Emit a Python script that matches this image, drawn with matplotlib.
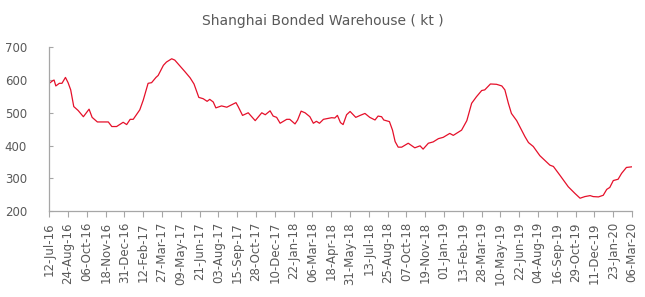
import numpy as np
import pandas as pd
import matplotlib
matplotlib.use("Agg")
import matplotlib.pyplot as plt

# weekly-ish readings of the stock level (kt)
dates = [
    "2016-07-12", "2016-07-20", "2016-07-23", "2016-07-27", "2016-08-04", "2016-08-10",
    "2016-08-18", "2016-08-24", "2016-08-30", "2016-09-06", "2016-09-16", "2016-09-28",
    "2016-10-11", "2016-10-18", "2016-10-30", "2016-11-13", "2016-11-24", "2016-12-02",
    "2016-12-13", "2016-12-28", "2017-01-05", "2017-01-13", "2017-01-20", "2017-02-04",
    "2017-02-12", "2017-02-23", "2017-03-03", "2017-03-13", "2017-03-18", "2017-03-30",
    "2017-04-06", "2017-04-18", "2017-04-25", "2017-05-07", "2017-05-18", "2017-05-30",
    "2017-06-08", "2017-06-19", "2017-06-29", "2017-07-08", "2017-07-14", "2017-07-22",
    "2017-07-28", "2017-08-10", "2017-08-22", "2017-09-12", "2017-09-17", "2017-09-27",
    "2017-10-10", "2017-10-26", "2017-11-10", "2017-11-18", "2017-11-29", "2017-12-06",
    "2017-12-14", "2017-12-22", "2018-01-06", "2018-01-13", "2018-01-25", "2018-01-31",
    "2018-02-08", "2018-02-17", "2018-02-28", "2018-03-08", "2018-03-15", "2018-03-22",
    "2018-03-31", "2018-04-19", "2018-04-26", "2018-05-02", "2018-05-09", "2018-05-15",
    "2018-05-23", "2018-05-31", "2018-06-13", "2018-06-23", "2018-07-04", "2018-07-15",
    "2018-07-27", "2018-08-03", "2018-08-11", "2018-08-16", "2018-08-29", "2018-09-05",
    "2018-09-11", "2018-09-18", "2018-09-26", "2018-10-11", "2018-10-26", "2018-11-07",
    "2018-11-14", "2018-11-26", "2018-12-07", "2018-12-19", "2018-12-30", "2019-01-14",
    "2019-01-22", "2019-02-10", "2019-02-22", "2019-03-05", "2019-03-16", "2019-03-28",
    "2019-04-04", "2019-04-17", "2019-05-01", "2019-05-13", "2019-05-20", "2019-05-28",
    "2019-06-04", "2019-06-16", "2019-06-23", "2019-07-05", "2019-07-13", "2019-07-24",
    "2019-08-08", "2019-08-20", "2019-08-31", "2019-09-08", "2019-09-23", "2019-10-12",
    "2019-10-27", "2019-11-08", "2019-11-19", "2019-12-01", "2019-12-08", "2019-12-20",
    "2019-12-31", "2020-01-08", "2020-01-15", "2020-01-23", "2020-02-03", "2020-02-11",
    "2020-02-22", "2020-03-06",
]
stocks = [
    590, 598, 600, 582, 590, 590,
    608, 592, 570, 519, 507, 488,
    511, 486, 472, 472, 472, 458,
    458, 471, 464, 480, 480, 509,
    539, 590, 592, 608, 614, 645,
    655, 665, 661, 643, 626, 607,
    588, 547, 543, 535, 541, 533,
    515, 521, 517, 531, 519, 492,
    500, 476, 500, 494, 506, 490,
    486, 468, 480, 480, 466, 478,
    505, 500, 488, 468, 474, 468,
    480, 485, 484, 492, 470, 464,
    494, 504, 486, 492, 498, 486,
    478, 490, 488, 478, 473, 447,
    412, 395, 395, 407, 393, 399,
    389, 407, 411, 421, 425, 437,
    431, 447, 476, 529, 549, 568,
    570, 588, 587, 582, 570, 529,
    498, 476, 458, 427, 409, 397,
    369, 354, 340, 336, 309, 274,
    254, 239, 244, 247, 244, 243,
    248, 266, 272, 293, 297, 315,
    333, 335,
]
title = "Shanghai Bonded Warehouse ( kt )"
x_start, x_end = "2016-07-12", "2020-03-06"
y_ticks = [200, 300, 400, 500, 600, 700]

grey_text = "#595959"
grey_axis = "#A6A6A6"
red = "#E5102A"

fig = plt.figure(figsize=(6.45, 2.97), dpi=100)
fig.patch.set_facecolor("white")

ax = fig.add_axes([0.0764, 0.2896, 0.9036, 0.5511])

x = pd.to_datetime(dates)
ax.plot(x, stocks, color=red, linewidth=0.9)

ax.set_xlim(pd.Timestamp(x_start), pd.Timestamp(x_end))
ax.set_ylim(200, 700)
ax.set_yticks(y_ticks)

xt = pd.date_range(x_start, x_end, freq="43D")
ax.set_xticks(xt)
ax.set_xticklabels([d.strftime("%d-%b-%y") for d in xt], rotation=90)

for s in ["top", "right"]:
    ax.spines[s].set_visible(False)
for s in ["left", "bottom"]:
    ax.spines[s].set_color(grey_axis)
    ax.spines[s].set_linewidth(0.9)

ax.tick_params(axis="y", direction="in", length=3, color=grey_axis,
               labelsize=8.5, labelcolor=grey_text, pad=16)
ax.tick_params(axis="x", direction="out", length=4, color=grey_axis,
               labelsize=8.5, labelcolor=grey_text, pad=4)

fig.text(0.5, 1 - 21 / 297, title, ha="center", va="center",
         fontsize=10, color=grey_text)

fig.savefig("out.png", dpi=100, facecolor="white")
